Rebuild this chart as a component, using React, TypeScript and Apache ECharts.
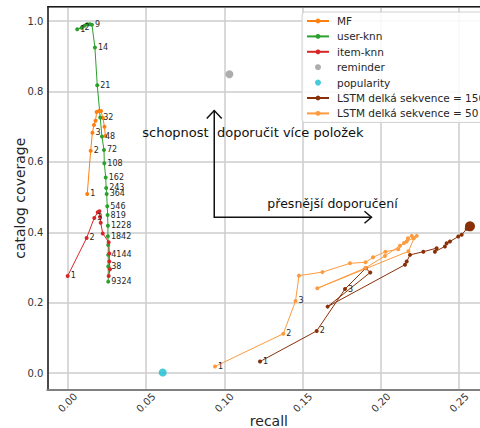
import React, { useEffect, useRef } from "react";
import * as echarts from "echarts";

// ---------- data ----------
const mfX = [0.0125, 0.0147, 0.0158, 0.0168, 0.0178, 0.0185, 0.02, 0.0213, 0.0225, 0.0235, 0.0241];
const mfY = [0.509, 0.632, 0.683, 0.705, 0.717, 0.742, 0.745, 0.745, 0.725, 0.7, 0.674];
const mfLabels = ["1", "2", "3", "", "", "", "", "", "", "", ""];

const userKnnX = [0.0061, 0.0089, 0.0107, 0.0125, 0.0142, 0.0155, 0.0174, 0.0189, 0.0208, 0.0219, 0.0232, 0.0234, 0.0243, 0.0246, 0.0249, 0.0253, 0.0255, 0.0257, 0.0257, 0.0259, 0.0259, 0.0259, 0.0259];
const userKnnY = [0.977, 0.981, 0.987, 0.991, 0.991, 0.99, 0.925, 0.818, 0.726, 0.672, 0.634, 0.596, 0.556, 0.526, 0.509, 0.474, 0.449, 0.419, 0.389, 0.364, 0.336, 0.303, 0.26];
const userKnnLabels = ["1", "2", "", "", "", "9", "14", "21", "32", "48", "72", "108", "162", "243", "364", "546", "819", "1228", "1842", "", "4144", "38", "9324"];

const itemKnnX = [0.0, 0.0121, 0.017, 0.0192, 0.0203, 0.0206, 0.0211, 0.0224, 0.0262, 0.0266, 0.0266, 0.027, 0.0262];
const itemKnnY = [0.276, 0.384, 0.441, 0.457, 0.46, 0.444, 0.427, 0.397, 0.372, 0.34, 0.317, 0.295, 0.276];
const itemKnnLabels = ["1", "2", "3", "", "", "", "", "", "", "", "", "", ""];

const reminderPoint = [0.1033, 0.849];
const popularityPoint = [0.0607, 0.0017];

const lstm150X = [0.1228, 0.159, 0.1771, 0.1903, 0.1932, 0.166, 0.2154, 0.2165, 0.2186, 0.2271, 0.2356, 0.2345, 0.2409, 0.242, 0.2441, 0.2494, 0.2516, 0.2548, 0.2569];
const lstm150Y = [0.033, 0.12, 0.239, 0.298, 0.286, 0.189, 0.308, 0.317, 0.336, 0.345, 0.355, 0.345, 0.36, 0.369, 0.374, 0.388, 0.393, 0.41, 0.417];
const lstm150Labels = ["1", "2", "3"];

const lstm50X = [0.0941, 0.1377, 0.1455, 0.1477, 0.1627, 0.1803, 0.1902, 0.195, 0.2029, 0.2111, 0.2148, 0.2173, 0.2197, 0.2211, 0.2176, 0.1594, 0.1902, 0.2026, 0.2122, 0.2165, 0.2207, 0.2229];
const lstm50Y = [0.019, 0.112, 0.205, 0.277, 0.287, 0.312, 0.315, 0.329, 0.345, 0.352, 0.37, 0.383, 0.39, 0.383, 0.346, 0.241, 0.299, 0.333, 0.362, 0.374, 0.384, 0.39];
const lstm50Labels = ["1", "2", "3"];

const seriesNames = ["MF", "user-knn", "item-knn", "reminder", "popularity", "LSTM delká sekvence = 150", "LSTM delká sekvence = 50"];
const xLabel = "recall";
const yLabel = "catalog coverage";
const annotationUp = "schopnost  doporučit více položek";
const annotationRight = "přesnější doporučení";

// annotation anchors in data coordinates
const arrowOrigin = [0.0936, 0.443];
const arrowUpEnd = [0.0936, 0.746];
const arrowRightEnd = [0.194, 0.443];
const textUpAnchor = [0.1183, 0.683];
const textRightAnchor = [0.1691, 0.481];

const X_MIN = -0.013;
const X_MAX = 0.27;
const Y_MIN = -0.047;
const Y_MAX = 1.041;

const FONT = "DejaVu Sans";

const zip = (xs: number[], ys: number[]) => xs.map((x, i) => [x, ys[i]]);

const pointLabel = (labels: string[]) => ({
  show: true,
  position: "right" as const,
  distance: 1,
  offset: [0, -2],
  fontSize: 8,
  fontFamily: FONT,
  color: "#262626",
  formatter: (p: any) => labels[p.dataIndex] || "",
});

const lineSeries = (name: string, xs: number[], ys: number[], labels: string[], color: string, extra: any = {}) => ({
  name,
  type: "line",
  data: zip(xs, ys),
  symbol: "circle",
  symbolSize: 4,
  showSymbol: true,
  lineStyle: { color, width: 1 },
  itemStyle: { color },
  label: pointLabel(labels),
  labelLayout: { hideOverlap: false },
  ...extra,
});

export default function App() {
  const ref = useRef<HTMLDivElement>(null);
  useEffect(() => {
    if (!ref.current) return;
    const chart = echarts.init(ref.current, null, { renderer: "svg" });
    const isMultiple = (v: number, step: number) => Math.abs(v / step - Math.round(v / step)) < 1e-6;
    const option: any = {
      animation: false,
      backgroundColor: "#ffffff",
      grid: { left: 47.3, top: 6.7, right: -10.5, bottom: 38.3, containLabel: false, outerBoundsMode: "none" },
      xAxis: {
        type: "value",
        min: X_MIN,
        max: X_MAX,
        splitNumber: 6,
        minInterval: 0.05,
        maxInterval: 0.05,
        name: xLabel,
        nameLocation: "middle",
        nameGap: 24,
        nameMoveOverlap: false,
        nameTextStyle: { fontSize: 14, fontFamily: FONT, color: "#262626" },
        axisLine: { show: true, onZero: false, lineStyle: { color: "#808080", width: 2 } },
        axisTick: { show: false },
        axisLabel: {
          rotate: 45,
          align: "center",
          verticalAlign: "middle",
          margin: 13,
          fontSize: 10,
          fontFamily: FONT,
          color: "#333333",
          showMinLabel: false,
          showMaxLabel: false,
          formatter: (v: number) => (isMultiple(v, 0.05) ? v.toFixed(2) : ""),
        },
        splitLine: { show: true, lineStyle: { color: "#cccccc", width: 1.5 } },
      },
      yAxis: {
        type: "value",
        min: Y_MIN,
        max: Y_MAX,
        splitNumber: 5,
        minInterval: 0.2,
        maxInterval: 0.2,
        name: yLabel,
        nameLocation: "middle",
        nameGap: 20,
        nameMoveOverlap: false,
        nameTextStyle: { fontSize: 14, fontFamily: FONT, color: "#262626" },
        axisLine: { show: true, onZero: false, lineStyle: { color: "#1a1a1a", width: 1.5 } },
        axisTick: { show: false },
        axisLabel: {
          margin: 4,
          fontSize: 10,
          fontFamily: FONT,
          color: "#333333",
          showMinLabel: false,
          showMaxLabel: false,
          formatter: (v: number) => (isMultiple(v, 0.2) ? v.toFixed(1) : ""),
        },
        splitLine: { show: true, lineStyle: { color: "#cccccc", width: 1.5 } },
      },
      legend: {
        orient: "vertical",
        left: 302,
        top: 12,
        itemWidth: 22,
        itemHeight: 6,
        itemGap: 3.4,
        padding: [3, 8, 3, 4],
        backgroundColor: "rgba(255,255,255,0.85)",
        borderColor: "#d0d0d0",
        borderWidth: 1,
        borderRadius: 3,
        textStyle: { fontSize: 10.5, fontFamily: FONT, color: "#262626", lineHeight: 12, padding: [0, 0, 0, 3] },
        data: seriesNames,
      },
      series: [
        lineSeries(seriesNames[0], mfX, mfY, mfLabels, "#ff7f0e"),
        lineSeries(seriesNames[1], userKnnX, userKnnY, userKnnLabels, "#2ca02c"),
        lineSeries(seriesNames[2], itemKnnX, itemKnnY, itemKnnLabels, "#d62728"),
        {
          name: seriesNames[3],
          type: "scatter",
          data: [reminderPoint],
          symbolSize: 8,
          itemStyle: { color: "#999999" },
        },
        {
          name: seriesNames[4],
          type: "scatter",
          data: [popularityPoint],
          symbolSize: 8,
          itemStyle: { color: "#17becf" },
        },
        lineSeries(seriesNames[5], lstm150X, lstm150Y, lstm150Labels, "#8a3008", {
          data: zip(lstm150X, lstm150Y).map((d, i, arr) => (i === arr.length - 1 ? { value: d, symbolSize: 10 } : d)),
        }),
        lineSeries(seriesNames[6], lstm50X, lstm50Y, lstm50Labels, "#fd9b3f"),
      ],
    };
    chart.setOption(option);

    const px = (pt: number[]) => chart.convertToPixel({ gridIndex: 0 }, pt) as number[];
    const o = px(arrowOrigin);
    const u = px(arrowUpEnd);
    const r = px(arrowRightEnd);
    const tl = px([X_MIN, Y_MAX]);
    const tr = px([X_MAX, Y_MAX]);
    const t1 = px(textUpAnchor);
    const t2 = px(textRightAnchor);
    const stroke = { stroke: "#111111", lineWidth: 1.5, fill: null };
    chart.setOption({
      graphic: [
        { type: "line", shape: { x1: tl[0], y1: tl[1], x2: tr[0], y2: tr[1] }, style: { stroke: "#1a1a1a", lineWidth: 1.5 }, z: 10 },
        { type: "polyline", shape: { points: [[u[0], u[1]], [o[0], o[1]], [r[0], r[1]]] }, style: stroke, z: 5 },
        { type: "polyline", shape: { points: [[u[0] - 7.5, u[1] + 8], [u[0], u[1]], [u[0] + 7.5, u[1] + 8]] }, style: stroke, z: 5 },
        { type: "polyline", shape: { points: [[r[0] - 7, r[1] - 6], [r[0], r[1]], [r[0] - 7, r[1] + 6]] }, style: stroke, z: 5 },
        {
          type: "text",
          x: t1[0],
          y: t1[1],
          style: { text: annotationUp, fontSize: 13, fontFamily: FONT, fill: "#111111", align: "center", verticalAlign: "middle" },
          z: 6,
        },
        {
          type: "text",
          x: t2[0],
          y: t2[1],
          style: { text: annotationRight, fontSize: 12.5, fontFamily: FONT, fill: "#111111", align: "center", verticalAlign: "middle" },
          z: 6,
        },
      ],
    });
    return () => chart.dispose();
  }, []);
  return <div ref={ref} style={{ position: "fixed", left: 0, top: 0, width: 480, height: 428 }} />;
}
